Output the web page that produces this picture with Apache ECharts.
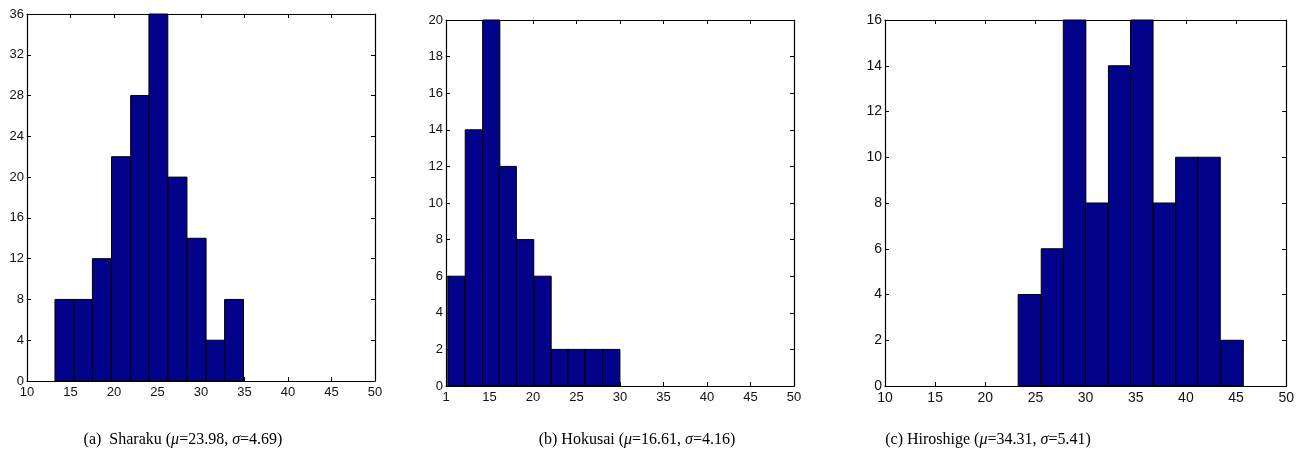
<!DOCTYPE html>
<html>
<head>
<meta charset="utf-8">
<script src="https://cdn.jsdelivr.net/npm/echarts@6/dist/echarts.min.js"></script>
<style>
html,body{margin:0;padding:0;background:#fff;}
#main{width:1297px;height:462px;}
</style>
</head>
<body>
<div id="main"></div>
<script>
// bin centres + counts
var sharakuCenters = [14.3, 16.5, 18.6, 20.8, 23.0, 25.1, 27.3, 29.5, 31.7, 33.8];
var sharakuCounts  = [8, 8, 12, 22, 28, 36, 20, 14, 4, 8];
var sharakuBinWidth = 2.17;

var hokusaiCenters = [11.2, 13.2, 15.2, 17.1, 19.1, 21.1, 23.1, 25.0, 27.0, 29.0];
var hokusaiCounts  = [6, 14, 20, 12, 8, 6, 2, 2, 2, 2];
var hokusaiBinWidth = 1.98;

var hiroshigeCenters = [24.4, 26.7, 28.9, 31.1, 33.4, 35.6, 37.9, 40.1, 42.3, 44.6];
var hiroshigeCounts  = [4, 6, 16, 8, 14, 16, 8, 10, 10, 2];
var hiroshigeBinWidth = 2.25;

var xMin = 10, xMax = 50, xStep = 5;
var yMaxList = [36, 20, 16];
var yStepList = [4, 2, 2];

var captions = [
  ['(a)  Sharaku (', 'μ', '=23.98, ', 'σ', '=4.69)'],
  ['(b) Hokusai (', 'μ', '=16.61, ', 'σ', '=4.16)'],
  ['(c) Hiroshige (', 'μ', '=34.31, ', 'σ', '=5.41)']
];

var myChart = echarts.init(document.getElementById('main'));

var grids = [
  {left: 27, top: 14, width: 348, height: 367},
  {left: 446, top: 20, width: 348, height: 366},
  {left: 885, top: 20, width: 402, height: 366}
];
var labelFonts = [
  {fontFamily: '"Liberation Sans Narrow", "Arial Narrow", sans-serif', fontSize: 13},
  {fontFamily: '"Liberation Sans", Arial, sans-serif', fontSize: 13},
  {fontFamily: '"Liberation Sans", Arial, sans-serif', fontSize: 14}
];

var xAxes = [], yAxes = [], series = [];
var hists = [
  [sharakuCenters, sharakuCounts, sharakuBinWidth],
  [hokusaiCenters, hokusaiCounts, hokusaiBinWidth],
  [hiroshigeCenters, hiroshigeCounts, hiroshigeBinWidth]
];

for (var g = 0; g < 3; g++) {
  var lf = labelFonts[g];
  // bottom + top x axis (box with inner ticks)
  xAxes.push({
    gridIndex: g, type: 'value', min: xMin, max: xMax, interval: xStep,
    position: 'bottom',
    axisLine: {show: true, onZero: false, lineStyle: {color: '#000', width: 1.2}},
    axisTick: {show: true, inside: true, length: 4, lineStyle: {color: '#000'}},
    splitLine: {show: false},
    axisLabel: {
      color: '#111', fontFamily: lf.fontFamily, fontSize: lf.fontSize, margin: 5,
      formatter: (function (gi) {
        return function (v) { return (gi === 1 && v === 10) ? '1' : String(v); };
      })(g)
    }
  });
  xAxes.push({
    gridIndex: g, type: 'value', min: xMin, max: xMax, interval: xStep,
    position: 'top',
    axisLine: {show: true, onZero: false, lineStyle: {color: '#000', width: 1.2}},
    axisTick: {show: true, inside: true, length: 4, lineStyle: {color: '#000'}},
    axisLabel: {show: false}, splitLine: {show: false}
  });
  yAxes.push({
    gridIndex: g, type: 'value', min: 0, max: yMaxList[g], interval: yStepList[g],
    position: 'left',
    axisLine: {show: true, onZero: false, lineStyle: {color: '#000', width: 1.2}},
    axisTick: {show: true, inside: true, length: 4, lineStyle: {color: '#000'}},
    splitLine: {show: false},
    axisLabel: {color: '#111', fontFamily: lf.fontFamily, fontSize: lf.fontSize, margin: 3}
  });
  yAxes.push({
    gridIndex: g, type: 'value', min: 0, max: yMaxList[g], interval: yStepList[g],
    position: 'right',
    axisLine: {show: true, onZero: false, lineStyle: {color: '#000', width: 1.2}},
    axisTick: {show: true, inside: true, length: 4, lineStyle: {color: '#000'}},
    axisLabel: {show: false}, splitLine: {show: false}
  });

  var h = hists[g];
  var data = [];
  for (var i = 0; i < h[0].length; i++) {
    data.push([h[0][i], h[1][i]]);
  }
  series.push({
    type: 'custom',
    xAxisIndex: g * 2, yAxisIndex: g * 2,
    data: data,
    renderItem: (function (bw) {
      return function (params, api) {
        var c = api.value(0), n = api.value(1);
        var p1 = api.coord([c - bw / 2, n]);
        var p2 = api.coord([c + bw / 2, 0]);
        return {
          type: 'rect',
          shape: {x: p1[0], y: p1[1], width: p2[0] - p1[0], height: p2[1] - p1[1]},
          style: {fill: '#02028a', stroke: '#000', lineWidth: 1}
        };
      };
    })(h[2])
  });
}

var capCenters = [178, 632, 983];
var serif = '"Liberation Serif", "Times New Roman", serif';
var titles = captions.map(function (c, i) {
  return {
    text: '{n|' + c[0] + '}{i|' + c[1] + '}{n|' + c[2] + '}{i|' + c[3] + '}{n|' + c[4] + '}',
    left: capCenters[i], top: 427,
    textAlign: 'center',
    textStyle: {
      fontWeight: 'normal',
      rich: {
        n: {fontFamily: serif, fontSize: 16, fontWeight: 'normal', color: '#000'},
        i: {fontFamily: serif, fontSize: 16, fontWeight: 'normal', fontStyle: 'italic', color: '#000'}
      }
    }
  };
});

var option = {
  backgroundColor: '#fff',
  animation: false,
  title: titles,
  grid: grids,
  xAxis: xAxes,
  yAxis: yAxes,
  series: series
};

myChart.setOption(option, true);
window.onresize = myChart.resize;
</script>
</body>
</html>
